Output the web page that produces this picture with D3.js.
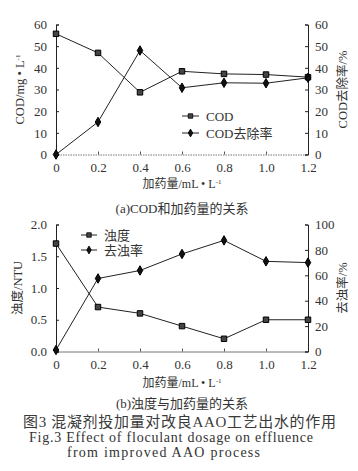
<!DOCTYPE html>
<html><head><meta charset="utf-8">
<script src="https://cdn.jsdelivr.net/npm/d3@7"></script>
<style>
body{margin:0;background:#fff;}
text{font-family:"Liberation Serif","Noto Sans CJK SC",serif;fill:#333;}
</style></head>
<body><svg id="c" width="358" height="471"></svg>
<script>
const dosage = [0, 0.2, 0.4, 0.6, 0.8, 1.0, 1.2];
const xTicks = [0, 0.2, 0.4, 0.6, 0.8, 1.0, 1.2];
const xTickLabels = ["0", "0.2", "0.4", "0.6", "0.8", "1.0", "1.2"];
const codValues = [55.7, 46.9, 28.7, 38.4, 37.2, 36.9, 35.7];
const codRemoval = [0, 15, 48, 30.8, 33.1, 32.9, 35.4];
const turbidity = [1.7, 0.7, 0.6, 0.4, 0.2, 0.5, 0.5];
const turbRemoval = [1.2, 57.5, 63.8, 76.8, 87.5, 71, 70];
const topLeftTicks = [0, 10, 20, 30, 40, 50, 60];
const topRightTicks = [0, 10, 20, 30, 40, 50, 60];
const botLeftTicks = [0, 0.5, 1.0, 1.5, 2.0];
const botRightTicks = [0, 20, 40, 60, 80, 100];

const svg = d3.select("#c");
const ink = "#222";

function panel(cfg) {
  const x = d3.scaleLinear().domain([0, 1.2]).range([56, 308]);
  const yL = d3.scaleLinear().domain(cfg.lDomain).range([cfg.y0, cfg.y1]);
  const yR = d3.scaleLinear().domain(cfg.rDomain).range([cfg.y0, cfg.y1]);
  const g = svg.append("g");
  const xa = g.append("g").attr("transform", `translate(0,${cfg.y0})`)
    .call(d3.axisBottom(x).tickValues(xTicks).tickSize(-3).tickPadding(8)
      .tickFormat((d, i) => xTickLabels[i]));
  xa.select(".domain").attr("stroke", "#777").attr("stroke-dasharray", cfg.dash);
  xa.selectAll(".tick line").attr("stroke", "#555");
  const la = g.append("g").attr("transform", `translate(56,0)`)
    .call(d3.axisLeft(yL).tickValues(cfg.lTicks).tickSize(-3).tickPadding(9)
      .tickFormat(cfg.lFmt));
  la.select(".domain").attr("stroke", ink);
  la.selectAll(".tick line").attr("stroke", ink);
  const ra = g.append("g").attr("transform", `translate(308,0)`)
    .call(d3.axisRight(yR).tickValues(cfg.rTicks).tickSize(-3).tickPadding(7)
      .tickFormat(d3.format("d")));
  ra.select(".domain").attr("stroke", ink);
  ra.selectAll(".tick line").attr("stroke", ink);
  g.selectAll("g").attr("font-family", null);
  g.selectAll(".tick text").attr("font-size", 13).attr("fill", "#333");
  g.selectAll(".domain").attr("stroke-width", 1);

  const line1 = d3.line().x((d, i) => x(dosage[i])).y(d => yL(d));
  const line2 = d3.line().x((d, i) => x(dosage[i])).y(d => yR(d));
  g.append("path").attr("d", line1(cfg.s1)).attr("fill", "none").attr("stroke", ink).attr("stroke-width", 1);
  g.append("path").attr("d", line2(cfg.s2)).attr("fill", "none").attr("stroke", ink).attr("stroke-width", 1);
  const sq = d3.symbol().type(d3.symbolSquare).size(30);
  const dm = d3.symbol().type(d3.symbolDiamond).size(26);
  g.selectAll(".s1").data(cfg.s1).join("path")
    .attr("d", sq).attr("transform", (d, i) => `translate(${x(dosage[i])},${yL(d)})`)
    .attr("fill", "#444").attr("stroke", "#000").attr("stroke-width", 1);
  g.selectAll(".s2").data(cfg.s2).join("path")
    .attr("d", dm).attr("transform", (d, i) => `translate(${x(dosage[i])},${yR(d)})`)
    .attr("fill", "#111").attr("stroke", "#000").attr("stroke-width", 1);

  const lg = g.append("g");
  cfg.legend.forEach((name, i) => {
    const ly = cfg.legY + i * cfg.legGap;
    lg.append("line").attr("x1", cfg.legX).attr("x2", cfg.legX + cfg.legW).attr("y1", ly).attr("y2", ly)
      .attr("stroke", ink).attr("stroke-width", 1);
    lg.append("path").attr("d", i === 0 ? d3.symbol().type(d3.symbolSquare).size(20)() : d3.symbol().type(d3.symbolDiamond).size(18)())
      .attr("transform", `translate(${cfg.legX + cfg.legW / 2},${ly})`)
      .attr("fill", i === 0 ? "#444" : "#111").attr("stroke", "#000").attr("stroke-width", 0.8);
    lg.append("text").attr("x", cfg.legX + cfg.legW + 7).attr("y", ly).attr("dy", "0.35em")
      .attr("font-size", 13).text(name);
  });

  const lt = g.append("text").attr("transform", `translate(${cfg.lTitleX},${(cfg.y0 + cfg.y1) / 2}) rotate(-90)`)
    .attr("text-anchor", "middle").attr("dy", "0.35em").attr("font-size", 12.5);
  lt.append("tspan").text(cfg.lTitle);
  if (cfg.lSup) lt.append("tspan").attr("font-size", 7).attr("dy", "-0.6em").text(cfg.lSup);
  g.append("text").attr("transform", `translate(343,${(cfg.y0 + cfg.y1) / 2}) rotate(-90)`)
    .attr("text-anchor", "middle").attr("dy", "0.35em").attr("font-size", 12.5).text(cfg.rTitle);

  const xt = g.append("text").attr("x", 182).attr("y", cfg.xTitleY).attr("text-anchor", "middle")
    .attr("dy", "0.35em").attr("font-size", 12);
  xt.append("tspan").text("加药量/mL • L");
  xt.append("tspan").attr("font-size", 7).attr("dy", "-0.6em").text("-1");
  g.append("text").attr("x", 182).attr("y", cfg.capY).attr("text-anchor", "middle")
    .attr("dy", "0.35em").attr("font-size", 13).text(cfg.caption);
}

panel({
  lDomain: [0, 60], rDomain: [0, 60], y0: 154.5, y1: 24.5,
  lTicks: topLeftTicks, rTicks: topRightTicks, lFmt: d3.format("d"),
  s1: codValues, s2: codRemoval, dash: "1.5,1",
  legend: ["COD", "COD去除率"], legX: 182, legW: 17, legY: 116, legGap: 17,
  lTitle: "COD/mg • L", lSup: "-1", lTitleX: 20, rTitle: "COD去除率/%",
  xTitleY: 184, capY: 208, caption: "(a)COD和加药量的关系"
});
panel({
  lDomain: [0, 2], rDomain: [0, 100], y0: 351.5, y1: 224.5,
  lTicks: botLeftTicks, rTicks: botRightTicks, lFmt: d3.format(".1f"),
  s1: turbidity, s2: turbRemoval, dash: null,
  legend: ["浊度", "去浊率"], legX: 81, legW: 16, legY: 235, legGap: 15,
  lTitle: "浊度/NTU", lSup: null, lTitleX: 18, rTitle: "去浊率/%",
  xTitleY: 383, capY: 403, caption: "(b)浊度与加药量的关系"
});

svg.append("text").attr("x", 23).attr("y", 422).attr("dy", "0.35em").attr("font-size", 15)
  .style("fill", "#3a3a3a")
  .attr("textLength", 313).attr("lengthAdjust", "spacing")
  .text("图3 混凝剂投加量对改良AAO工艺出水的作用");
svg.append("text").attr("x", 29).attr("y", 437).attr("dy", "0.35em").attr("font-size", 14)
  .attr("textLength", 284).attr("lengthAdjust", "spacing")
  .text("Fig.3  Effect of floculant dosage on effluence");
svg.append("text").attr("x", 67).attr("y", 452).attr("dy", "0.35em").attr("font-size", 14)
  .attr("textLength", 193).attr("lengthAdjust", "spacing")
  .text("from improved AAO process");
</script></body></html>
